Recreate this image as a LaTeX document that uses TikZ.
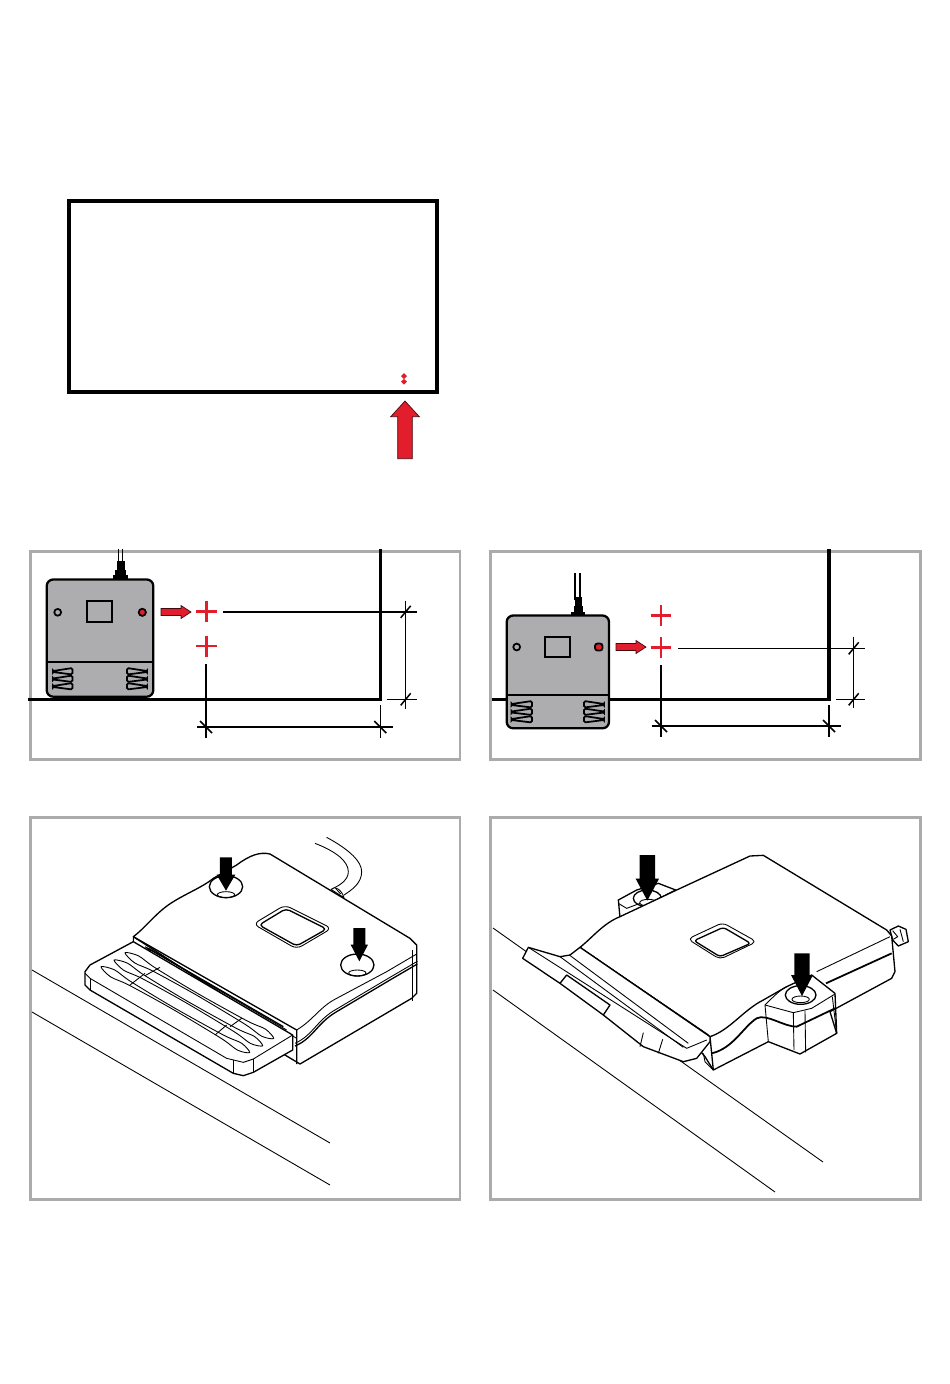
\documentclass[tikz,border=0pt]{standalone}
\usepackage{xcolor}
\usetikzlibrary{calc}
\definecolor{framegray}{HTML}{ABABAB}
\definecolor{bodygray}{HTML}{ADADAF}
\definecolor{markred}{HTML}{E21E2D}
\tikzset{
    panel/.style={draw=framegray, line width=1.7pt},
    wall/.style={line width=1.8pt, line cap=butt},
    dimline/.style={line width=0.85pt},
    devicebody/.style={draw, fill=bodygray, line width=1.3pt, rounded corners=1.3mm},
    devicepart/.style={draw, line width=1pt},
    redcross/.style={draw=markred, line width=1.6pt},
    redarrow/.style={draw=black!70!markred, fill=markred, line width=0.4pt, line join=miter},
    fineline/.style={line width=0.5pt, line join=round},
    midline/.style={line width=0.75pt, line join=round},
    heavyline/.style={line width=1pt, line join=round},
    whitefill/.style={fill=white}
}
% tip x, tip y, half shaft, half head, head length, total length
\newcommand{\pressarrow}[6]{
    \fill (#1-#3,#2-#6) -- (#1+#3,#2-#6) -- (#1+#3,#2-#5) -- (#1+#4,#2-#5)
        -- (#1,#2) -- (#1-#4,#2-#5) -- (#1-#3,#2-#5) -- cycle;
}
% start x, start y, length
\newcommand{\sidearrow}[3]{
    \draw[redarrow] (#1,#2-3.5) -- (#1+#3-10,#2-3.5) -- (#1+#3-10,#2-6.5) -- (#1+#3,#2)
        -- (#1+#3-10,#2+6.5) -- (#1+#3-10,#2+3.5) -- (#1,#2+3.5) -- cycle;
}
\newcommand{\slashup}[2]{\draw[dimline] (#1-5,#2+6) -- (#1+5,#2-6);}
\newcommand{\slashdown}[2]{\draw[dimline] (#1-6,#2-6) -- (#1+6,#2+6);}
\begin{document}
\begin{tikzpicture}[x=0.02cm, y=-0.02cm]
    \useasboundingbox (0,0) rectangle (950,1384);

    % overview
    \draw[line width=1.8pt] (69,201) rectangle (437,392);
    \fill[markred] (404,373) -- (407,376) -- (404,379) -- (401,376) -- cycle;
    \fill[markred] (404,379) -- (407,381.5) -- (404,384.5) -- (401,381.5) -- cycle;
    \draw[redarrow] (397.7,458.7) -- (397.7,416.7) -- (390.7,416.7) -- (405,401)
        -- (419.3,416.7) -- (412.3,416.7) -- (412.3,458.7) -- cycle;

    % plan, left
    \draw[panel] (30.5,551) rectangle (460,759);
    \draw[wall] (28,699.3) -- (380.3,699.3) -- (380.3,549);
    \draw[line width=0.8pt] (118.5,549) -- (118.5,566) (122.5,549) -- (122.5,566);
    \fill (116.5,561) rectangle (124.5,570);
    \fill (115,570) rectangle (126,575);
    \fill (113,575) rectangle (128,580);
    \draw[devicebody] (46.7,579.5) rectangle (153.3,696.7);
    \draw[devicepart] (87.3,601) rectangle (112.3,622.3);
    \draw[devicepart, fill=bodygray] (57.7,612.3) circle (3.4);
    \draw[devicepart, fill=markred] (142.3,612.3) circle (3.6);
    \draw[line width=1.3pt] (46.7,662) -- (153.3,662);
    \foreach \rowy in {671.5,679,686.5}{
        \draw[devicepart, rounded corners=0.3mm] (72.5,\rowy-3.5) -- (53,\rowy-0.5) -- (53,\rowy+0.5) -- (72.5,\rowy+3) -- cycle;
        \draw[devicepart, rounded corners=0.3mm] (127,\rowy-3.5) -- (147,\rowy-0.5) -- (147,\rowy+0.5) -- (127,\rowy+3) -- cycle;
    }
    \sidearrow{161}{612}{30}
    \foreach \crossy in {611.7,646}{
        \draw[redcross] (196,\crossy) -- (217,\crossy) (206.3,\crossy-10.5) -- (206.3,\crossy+10.5);
    }
    \draw[dimline] (223.3,611.8) -- (417.3,611.8);
    \draw[dimline] (405.7,600.7) -- (405.7,709);
    \draw[dimline] (386.7,699.3) -- (417.3,699.3);
    \draw[dimline] (206,664) -- (206,738);
    \draw[dimline] (380.3,705) -- (380.3,738);
    \draw[dimline] (197.3,727) -- (392.7,727);
    \slashup{405.7}{611.8}
    \slashup{405.7}{699.3}
    \slashdown{206}{727}
    \slashdown{380.3}{727}

    % plan, right
    \draw[panel] (490.5,551) rectangle (920.5,759);
    \draw[wall] (492,699.3) -- (829,699.3) -- (829,549);
    \draw[line width=0.8pt] (574.8,573.3) -- (574.8,600) (580,573.3) -- (580,600);
    \fill (575,597) rectangle (582,606);
    \fill (574,606) rectangle (583,612);
    \fill (571,612) rectangle (585,616);
    \draw[devicebody] (506.7,615.5) rectangle (609,728.3);
    \draw[devicepart] (545.3,636.7) rectangle (570,656.7);
    \draw[devicepart, fill=bodygray] (516.7,647) circle (3.4);
    \draw[devicepart, fill=markred, rounded corners=0.5mm] (595,643.5) rectangle (602.5,650.5);
    \draw[line width=1pt] (506.7,695) -- (609,695);
    \foreach \rowy in {704.5,712,719.5}{
        \draw[devicepart, rounded corners=0.3mm] (532,\rowy-3.5) -- (511.5,\rowy-0.5) -- (511.5,\rowy+0.5) -- (532,\rowy+3) -- cycle;
        \draw[devicepart, rounded corners=0.3mm] (584,\rowy-3.5) -- (604,\rowy-0.5) -- (604,\rowy+0.5) -- (584,\rowy+3) -- cycle;
    }
    \sidearrow{616}{647}{30}
    \foreach \crossy in {615.3,647.3}{
        \draw[redcross] (651,\crossy) -- (671,\crossy) (661,\crossy-10.5) -- (661,\crossy+10.5);
    }
    \draw[dimline] (678.3,648.3) -- (865,648.3);
    \draw[dimline] (853.7,636.7) -- (853.7,708.3);
    \draw[dimline] (836,699.3) -- (865,699.3);
    \draw[line width=1.1pt] (661,665) -- (661,737.3);
    \draw[dimline] (829,705) -- (829,737.3);
    \draw[dimline] (651.7,726) -- (841,726);
    \slashup{853.7}{648.3}
    \slashup{853.7}{699.3}
    \slashdown{661}{726}
    \slashdown{829}{726}

    % perspective, left
    \draw[panel] (30.5,817.5) rectangle (460,1199);
    \draw[fineline] (32,970) -- (330,1143);
    \draw[fineline] (32,1012) -- (330,1185);
    \begin{scope}[shift={(70,830)}, scale=1/3]
        % cable
        \draw[fineline] (735,40) .. controls (800,65) and (835,95) .. (835,125) .. controls (835,150) and (810,165) .. (790,175);
        \draw[fineline] (770,22) .. controls (840,60) and (875,95) .. (875,125) .. controls (875,160) and (845,180) .. (822,195);
        \draw[fineline, whitefill] (783,178) .. controls (795,165) and (815,180) .. (822,203) -- cycle;
        \draw[fineline] (797,175) -- (812,192);
        % body
        \draw[midline, whitefill] (190,320) .. controls (230,290) and (260,245) .. (310,215)
            .. controls (350,190) and (400,170) .. (430,145) -- (500,105)
            .. controls (540,75) and (570,65) .. (600,72) -- (630,90) -- (1020,325) -- (1040,345)
            -- (1040,490) -- (1025,505) -- (690,702) -- (640,672) -- (640,610) -- cycle;
        \draw[fineline] (190,320) -- (190,340) -- (680,625);
        \draw[midline] (190,320) -- (680,600) -- (680,702);
        \draw[fineline] (680,600) .. controls (730,570) and (750,530) .. (800,505) -- (950,425) -- (1040,372);
        \draw[fineline] (1028,360) -- (1028,512);
        \draw[midline] (675,648) .. controls (730,625) and (740,580) .. (800,545) -- (960,450) -- (1042,402);
        \draw[fineline] (675,640) .. controls (730,615) and (740,570) .. (800,537) -- (960,442) -- (1042,394);
        \draw[midline] (235,355) -- (640,590);
        \draw[fineline] (225,350) -- (650,600);
        % window
        \draw[fineline, rounded corners=1.2mm] (550,282) -- (645,225) -- (785,295) -- (680,357) -- cycle;
        \draw[midline, rounded corners=0.8mm] (567,285) -- (648,236) -- (770,297) -- (680,348) -- cycle;
        % holes
        \foreach \holex/\holey in {468/170,862/405}{
            \draw[midline, whitefill] (\holex,\holey) ellipse (50 and 33);
            \draw[fineline] (\holex,\holey+24) ellipse (26 and 9);
        }
        \pressarrow{468}{182}{18}{28}{48}{100}
        \pressarrow{868}{394}{18}{26}{50}{100}
        % tray
        \draw[midline, whitefill] (190,335) -- (60,405) -- (45,425) -- (45,465) -- (60,480)
            -- (490,730) -- (520,737) -- (550,727) -- (668,660) -- (668,615) -- cycle;
        \draw[fineline] (45,430) -- (60,445) -- (470,685) -- (520,697) -- (550,687) -- (668,615);
        \draw[fineline] (60,445) -- (60,480) (490,690) -- (490,730) (550,687) -- (550,727);
        \foreach \sx/\sy in {165/368,132/390,93/410}{
            \draw[fineline, shift={(\sx,\sy)}] plot[smooth cycle] coordinates {(0,0) (40.6,9.6) (89.6,44.8)
                (218,122.4) (366.7,204.8) (421.7,229.6) (446,257.5) (409.7,250.4) (360.7,215.2) (215,127.6) (83.6,55.2) (28.6,30.4)};
        }
        \draw[fineline] (270,412) -- (225,437) (225,430) -- (180,465)
            (515,565) -- (480,590) (470,585) -- (435,615);
        \draw[fineline] (228,352) -- (250,364) (228,352) .. controls (232,358) and (240,362) .. (250,364);
    \end{scope}

    % perspective, right
    \draw[panel] (490.5,817.5) rectangle (920.5,1199);
    \draw[fineline] (493,928) -- (823,1162);
    \draw[fineline] (493,990) -- (775,1192);
    \begin{scope}[shift={(510,840)}, scale=1/3]
        % rear lug
        \draw[midline, whitefill] (325,180) -- (380,150) -- (445,130) -- (497,150) -- (400,200) -- (330,232) -- cycle;
        \draw[fineline] (325,190) -- (350,205) -- (390,190);
        \draw[midline] (412,175) ellipse (42 and 25);
        \draw[fineline] (415,188) ellipse (26 and 10);
        % connector
        \draw[midline, whitefill] (1140,270) -- (1165,258) -- (1188,268) -- (1195,305) -- (1165,318) -- (1148,300) -- cycle;
        \draw[fineline] (1148,272) -- (1163,290) -- (1150,298) (1170,268) -- (1180,305);
        % body
        \draw[midline, whitefill] (210,322) .. controls (250,290) and (280,250) .. (330,230)
            -- (500,150) -- (720,48) -- (760,46) -- (1130,270) -- (1145,288) -- (1155,395) -- (1145,415)
            -- (960,515) -- (980,580) -- (870,642) -- (775,605) -- (610,690) -- (585,650) -- (560,620) -- cycle;
        \draw[midline] (210,322) -- (600,590) -- (610,690);
        \draw[midline] (235,340) -- (595,585);
        \draw[midline] (600,590) .. controls (660,570) and (700,510) .. (760,480)
            -- (830,440) -- (905,405) -- (975,460) -- (980,580);
        \draw[fineline] (920,395) -- (1140,290);
        \draw[heavyline] (605,640) .. controls (670,625) and (700,560) .. (740,535)
            .. controls (770,520) and (820,560) .. (860,560) -- (975,505);
        \draw[heavyline] (948,430) -- (1145,340);
        % lug
        \draw[fineline] (765,495) .. controls (790,470) and (810,450) .. (830,440);
        \draw[fineline] (765,495) -- (850,518) -- (905,505) -- (975,462);
        \draw[fineline] (765,495) -- (775,605) (850,518) -- (852,630) (885,512) -- (887,637) (967,470) -- (980,580);
        \draw[midline] (872,465) ellipse (46 and 28);
        \draw[fineline] (872,478) ellipse (26 and 10);
        % window
        \draw[fineline, rounded corners=1mm] (533,297) -- (638,248) -- (740,305) -- (630,358) -- cycle;
        \draw[midline, rounded corners=0.6mm] (552,302) -- (640,262) -- (722,310) -- (630,350) -- cycle;
        \pressarrow{412}{182}{23}{35}{66}{137}
        \pressarrow{876}{468}{23}{33}{63}{128}
        % tray
        \draw[midline, whitefill] (38,355) -- (55,322) -- (150,350) -- (180,345) -- (210,322) -- (600,590)
            -- (600,605) -- (560,655) -- (520,665) -- (400,620) -- (280,525) -- (150,430) -- cycle;
        \draw[fineline] (55,322) -- (530,625) -- (590,600);
        \draw[fineline] (150,350) -- (520,622) (178,345) -- (535,610);
        \draw[midline] (150,430) -- (170,405) -- (300,495) -- (280,525);
        \draw[fineline] (400,578) -- (390,620) (458,598) -- (445,640);
        \draw[fineline] (580,640) -- (585,665) -- (610,690);
    \end{scope}
\end{tikzpicture}
\end{document}
